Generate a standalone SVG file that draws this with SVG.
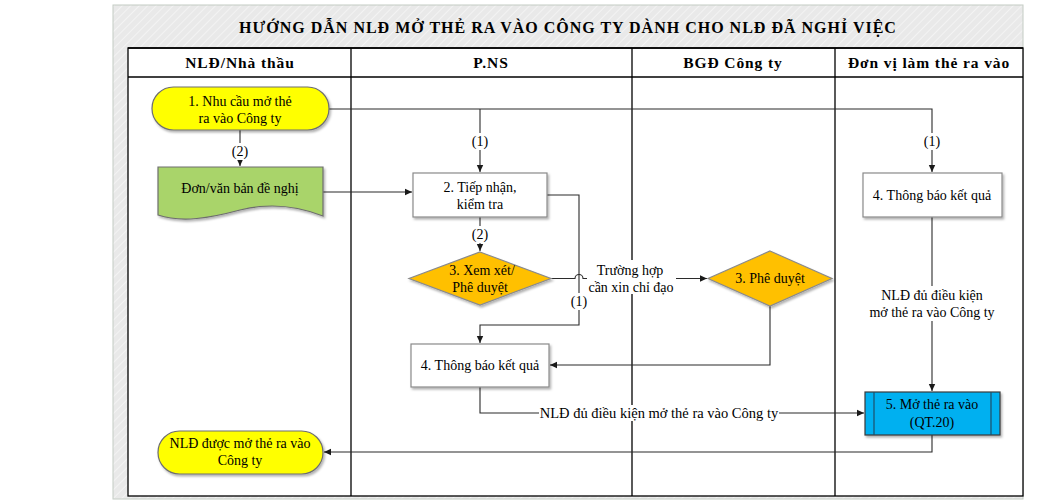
<svg xmlns="http://www.w3.org/2000/svg" width="1056" height="502" viewBox="0 0 1056 502">
<defs>
<pattern id="hatch" width="6" height="6" patternUnits="userSpaceOnUse" patternTransform="rotate(45)">
<rect width="6" height="6" fill="#e9e9e9"/>
<line x1="0" y1="0" x2="0" y2="6" stroke="#f3f3f3" stroke-width="2"/>
</pattern>
<filter id="sh" x="-10%" y="-10%" width="125%" height="135%">
<feDropShadow dx="1.5" dy="2" stdDeviation="1.2" flood-color="#000" flood-opacity="0.3"/>
</filter>
<marker id="ar" markerWidth="8" markerHeight="8" refX="7" refY="4" orient="auto" markerUnits="userSpaceOnUse">
<path d="M0,0.8 L7,4 L0,7.2 Z" fill="#1a1a1a"/>
</marker>
<style>
.t{font-family:"Liberation Serif","Times New Roman",serif;font-size:14px;fill:#000;text-anchor:middle}
.h{font-family:"Liberation Serif","Times New Roman",serif;font-size:15.5px;font-weight:bold;letter-spacing:0.9px;fill:#000;text-anchor:middle}
.ttl{font-family:"Liberation Serif","Times New Roman",serif;font-size:16px;font-weight:bold;letter-spacing:1px;fill:#000;text-anchor:middle}
.c{fill:none;stroke:#2b2b2b;stroke-width:1.1}
.lane{stroke:#000;stroke-width:1.3;fill:none}
.box{fill:#fff;stroke:#8a8a8a;stroke-width:1.2;filter:url(#sh)}
.lbl{fill:#fff}
</style>
</defs>

<g id="frame">
<rect x="113" y="5" width="910" height="494" fill="url(#hatch)" stroke="#c4ccc4" stroke-width="1"/>
<rect x="128" y="48" width="895" height="448" fill="#fff"/>
<text class="ttl" x="568" y="33">HƯỚNG DẪN NLĐ MỞ THẺ RA VÀO CÔNG TY DÀNH CHO NLĐ ĐÃ NGHỈ VIỆC</text>
<line x1="128" y1="48" x2="1023" y2="48" stroke="#333" stroke-width="2.2"/>
<rect class="lane" x="128" y="48" width="895" height="448"/>
<line class="lane" x1="128" y1="77" x2="1023" y2="77"/>
<line class="lane" x1="351" y1="48" x2="351" y2="496"/>
<line class="lane" x1="632" y1="48" x2="632" y2="496"/>
<line class="lane" x1="835" y1="48" x2="835" y2="496"/>
<text class="h" x="240" y="68">NLĐ/Nhà thầu</text>
<text class="h" x="491" y="68">P.NS</text>
<text class="h" x="733" y="68">BGĐ Công ty</text>
<text class="h" x="929" y="68">Đơn vị làm thẻ ra vào</text>
</g>

<g id="connectors">
<path class="c" d="M329,109 H932 V172" marker-end="url(#ar)"/>
<path class="c" d="M480,109 V172" marker-end="url(#ar)"/>
<rect class="lbl" x="469" y="133" width="22" height="17"/>
<text class="t" x="480" y="146">(1)</text>
<rect class="lbl" x="921" y="133" width="22" height="17"/>
<text class="t" x="932" y="146">(1)</text>
<path class="c" d="M240,130 V166" marker-end="url(#ar)"/>
<rect class="lbl" x="229" y="143" width="22" height="17"/>
<text class="t" x="240" y="156">(2)</text>
<path class="c" d="M323,192 H412" marker-end="url(#ar)"/>
<path class="c" d="M480,217 V251" marker-end="url(#ar)"/>
<rect class="lbl" x="469" y="226" width="22" height="17"/>
<text class="t" x="480" y="239">(2)</text>
<path class="c" d="M547,195 H579 V325 H480 V343" marker-end="url(#ar)"/>
<rect class="lbl" x="568" y="293" width="22" height="17"/>
<text class="t" x="579" y="306">(1)</text>
<path class="c" d="M551,278.5 H575 A4,4 0 0 1 583,278.5 H707" marker-end="url(#ar)"/>
<rect class="lbl" x="587" y="260" width="89" height="34"/>
<text class="t" x="630" y="275">Trường hợp</text>
<text class="t" x="631" y="292">cần xin chỉ đạo</text>
<path class="c" d="M770,306 V365 H550" marker-end="url(#ar)"/>
<path class="c" d="M480,387 V413 H864" marker-end="url(#ar)"/>
<rect class="lbl" x="539" y="405" width="240" height="16"/>
<text class="t" x="659" y="418" style="font-size:14.5px">NLĐ đủ điều kiện mở thẻ ra vào Công ty</text>
<path class="c" d="M932,217 V391" marker-end="url(#ar)"/>
<rect class="lbl" x="864" y="286" width="136" height="35"/>
<text class="t" x="932" y="300">NLĐ đủ điều kiện</text>
<text class="t" x="932" y="317">mở thẻ ra vào Công ty</text>
<path class="c" d="M932,435 V452 H324" marker-end="url(#ar)"/>
</g>

<g id="n1">
<rect x="152" y="87" width="177" height="43" rx="21.5" fill="#ffff00" stroke="#6e6e6e" stroke-width="1.2" filter="url(#sh)"/>
<text class="t" x="240" y="106">1. Nhu cầu mở thẻ</text>
<text class="t" x="240" y="123">ra vào Công ty</text>
</g>

<g id="n_doc">
<path d="M158,167 H323 V216 C295,205 268,203 240,210 C210,218 182,223 158,215 Z" fill="#a9d46a" stroke="#6e6e6e" stroke-width="1.2" filter="url(#sh)"/>
<text class="t" x="240" y="193">Đơn/văn bản đề nghị</text>
</g>

<g id="n2">
<rect class="box" x="413" y="173" width="134" height="44"/>
<text class="t" x="480" y="192">2. Tiếp nhận,</text>
<text class="t" x="480" y="209">kiểm tra</text>
</g>

<g id="n3a">
<polygon points="480,252 551,278.5 480,305 409,278.5" fill="#ffc000" stroke="#8a8a8a" stroke-width="1.2" filter="url(#sh)"/>
<text class="t" x="482" y="275">3. Xem xét/</text>
<text class="t" x="480" y="292">Phê duyệt</text>
</g>

<g id="n3b">
<polygon points="770,251 832,278.5 770,306 708,278.5" fill="#ffc000" stroke="#8a8a8a" stroke-width="1.2" filter="url(#sh)"/>
<text class="t" x="770" y="283">3. Phê duyệt</text>
</g>

<g id="n4a">
<rect class="box" x="411" y="344" width="138" height="43"/>
<text class="t" x="480" y="370">4. Thông báo kết quả</text>
</g>

<g id="n4b">
<rect class="box" x="863" y="173" width="139" height="44"/>
<text class="t" x="932" y="200">4. Thông báo kết quả</text>
</g>

<g id="n5">
<rect x="865" y="392" width="135" height="43" fill="#00b0f0" stroke="#3a3a3a" stroke-width="1.2" filter="url(#sh)"/>
<line x1="874" y1="392" x2="874" y2="435" stroke="#1d4f6a" stroke-width="1.2"/>
<line x1="991" y1="392" x2="991" y2="435" stroke="#1d4f6a" stroke-width="1.2"/>
<text class="t" x="932" y="409">5. Mở thẻ ra vào</text>
<text class="t" x="932" y="427">(QT.20)</text>
</g>

<g id="n_end">
<rect x="158" y="431" width="165" height="43" rx="21.5" fill="#ffff00" stroke="#6e6e6e" stroke-width="1.2" filter="url(#sh)"/>
<text class="t" x="240" y="448">NLĐ được mở thẻ ra vào</text>
<text class="t" x="240" y="465">Công ty</text>
</g>
</svg>
